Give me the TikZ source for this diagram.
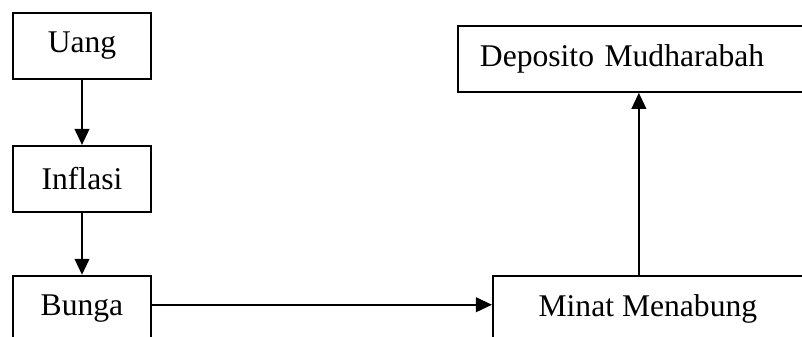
\documentclass[tikz,border=0pt]{standalone}
\usepackage{fontspec}
\setmainfont{Liberation Serif}
\usetikzlibrary{arrows.meta,positioning}

\begin{document}
\begin{tikzpicture}[x=0.75pt,y=-0.75pt,>={Triangle[length=12pt,width=11pt]},
        line width=1.4pt,
        font=\fontsize{23.7pt}{28pt}\selectfont,
        box/.style={draw,rectangle,minimum width=103.5pt,minimum height=49.5pt,inner sep=0pt}]

            \useasboundingbox (0,0) rectangle (802,336);
            \clip (0,0) rectangle (802,336);

            \node[box] (uang) at (82,46) {Uang};

            \node[box] (inflasi) [below=48.75pt of uang] {Inflasi};

            \node[box] (bunga) [below=46.5pt of inflasi] {Bunga};

            \node[box,minimum width=232.5pt] (minat) [right=255pt of bunga] {Minat Menabung};

            \node[box,anchor=north west,text width=237pt,align=left,inner xsep=16.5pt] (deposito) at (457,25) {Deposito Mudharabah};

            

            \draw[->] (uang) -- (inflasi);

            \draw[->] (inflasi) -- (bunga);

            \draw[->] ([yshift=3pt]bunga.east) -- ([yshift=3pt]minat.west);

            \draw[->] ([xshift=-6.75pt]minat.north) -- ([xshift=-6.75pt]minat.north |- deposito.south);

        \end{tikzpicture}
\end{document}
